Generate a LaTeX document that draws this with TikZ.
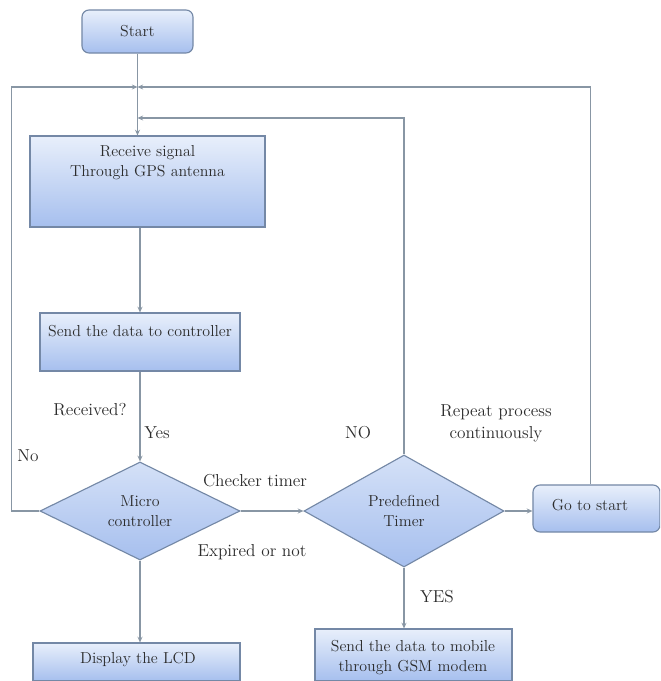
\documentclass[tikz,border=0pt]{standalone}
\usetikzlibrary{shapes.geometric,arrows.meta}
\definecolor{boxtop}{HTML}{E8EFFB}
\definecolor{boxbot}{HTML}{A6BFEE}
\definecolor{boxedge}{HTML}{7488A6}
\definecolor{wirecol}{HTML}{8896A4}
\definecolor{ink}{HTML}{2C2C2C}
\begin{document}
\begin{tikzpicture}[x=0.025cm,y=-0.025cm,
	box/.style={draw=boxedge, line width=0.8pt, top color=boxtop, bottom color=boxbot, inner sep=0pt},
	rbox/.style={box, rounded corners=5pt},
	decide/.style={diamond, draw=boxedge, line width=0.8pt, top color=boxtop!70!boxbot, bottom color=boxbot, inner sep=0pt, aspect=2},
	txt/.style={text=ink, align=center, font=\fontsize{11.3}{14.5}\selectfont},
	lbl/.style={text=ink, align=center, font=\fontsize{12.3}{16}\selectfont},
	wire/.style={draw=wirecol, line width=0.8pt, -{Stealth[length=4pt,width=3.5pt]}}]
	\clip (0,0) rectangle (660,681);
	\fill[white] (0,0) rectangle (660,681);
	% boxes
	\node[rbox, minimum width=2.775cm, minimum height=1.075cm] (start) at (137.5,31.5) {};
	\node[box, minimum width=5.875cm, minimum height=2.275cm] (recv) at (147.5,181.5) {};
	\node[box, minimum width=5cm, minimum height=1.45cm] (sendc) at (140,342) {};
	\node[decide, minimum width=5cm, minimum height=2.45cm] (micro) at (140,511) {};
	\node[decide, minimum width=5cm, minimum height=2.8cm] (pred) at (404,511) {};
	\node[rbox, minimum width=3.175cm, minimum height=1.175cm] (goto) at (596.5,508.5) {};
	\node[box, minimum width=5.175cm, minimum height=0.95cm] (lcd) at (136.5,662) {};
	\node[box, minimum width=4.925cm, minimum height=1.3cm] (sendm) at (413.5,655) {};
	% texts in boxes
	\node[txt] (starttxt) at (start) {Start};
	\node[txt] (recvtxt) at (147.5,162.5) {Receive signal\\Through GPS antenna};
	\node[txt] (sendctxt) at (140,331) {Send the data to controller};
	\node[txt] (microtxt) at (micro) {Micro\\controller};
	\node[txt] (predtxt) at (pred) {Predefined\\Timer};
	\node[txt] (gototxt) at (590,505) {Go to start};
	\node[txt] (lcdtxt) at (138,660) {Display the LCD};
	\node[txt] (sendmtxt) at (413,657.5) {Send the data to mobile\\through GSM modem};
	% labels
	\node[lbl] (rcvd) at (90,410) {Received?};
	\node[lbl] (yes) at (157,433) {Yes};
	\node[lbl] (no) at (28,456) {No};
	\node[lbl] (check) at (255,481) {Checker timer};
	\node[lbl] (expd) at (252,552) {Expired or not};
	\node[lbl] (nobig) at (358,433) {NO};
	\node[lbl] (repeat) at (496,423.5) {Repeat process\\continuously};
	\node[lbl] (yesbig) at (437,597) {YES};
	% junctions
	\coordinate (j1) at (137.5,87);
	\coordinate (j2) at (137.5,118);
	% connectors
	\draw[wire] (start.south) -- (recv.north -| start.south);
	\draw[wire] (recv.south -| sendc.north) -- (sendc.north);
	\draw[wire] (sendc.south) -- (micro.north);
	\draw[wire] (micro.west) -- ++(-28,0) |- (j1);
	\draw[wire] (micro.east) -- (pred.west);
	\draw[wire] (pred.north) |- (j2);
	\draw[wire] (pred.east) -- (pred.east -| goto.west);
	\draw[wire] ([xshift=-0.15cm]goto.north) |- (j1);
	\draw[wire] (pred.south) -- (sendm.north -| pred.south);
	\draw[wire] (micro.south) -- (lcd.north -| micro.south);
\end{tikzpicture}
\end{document}
